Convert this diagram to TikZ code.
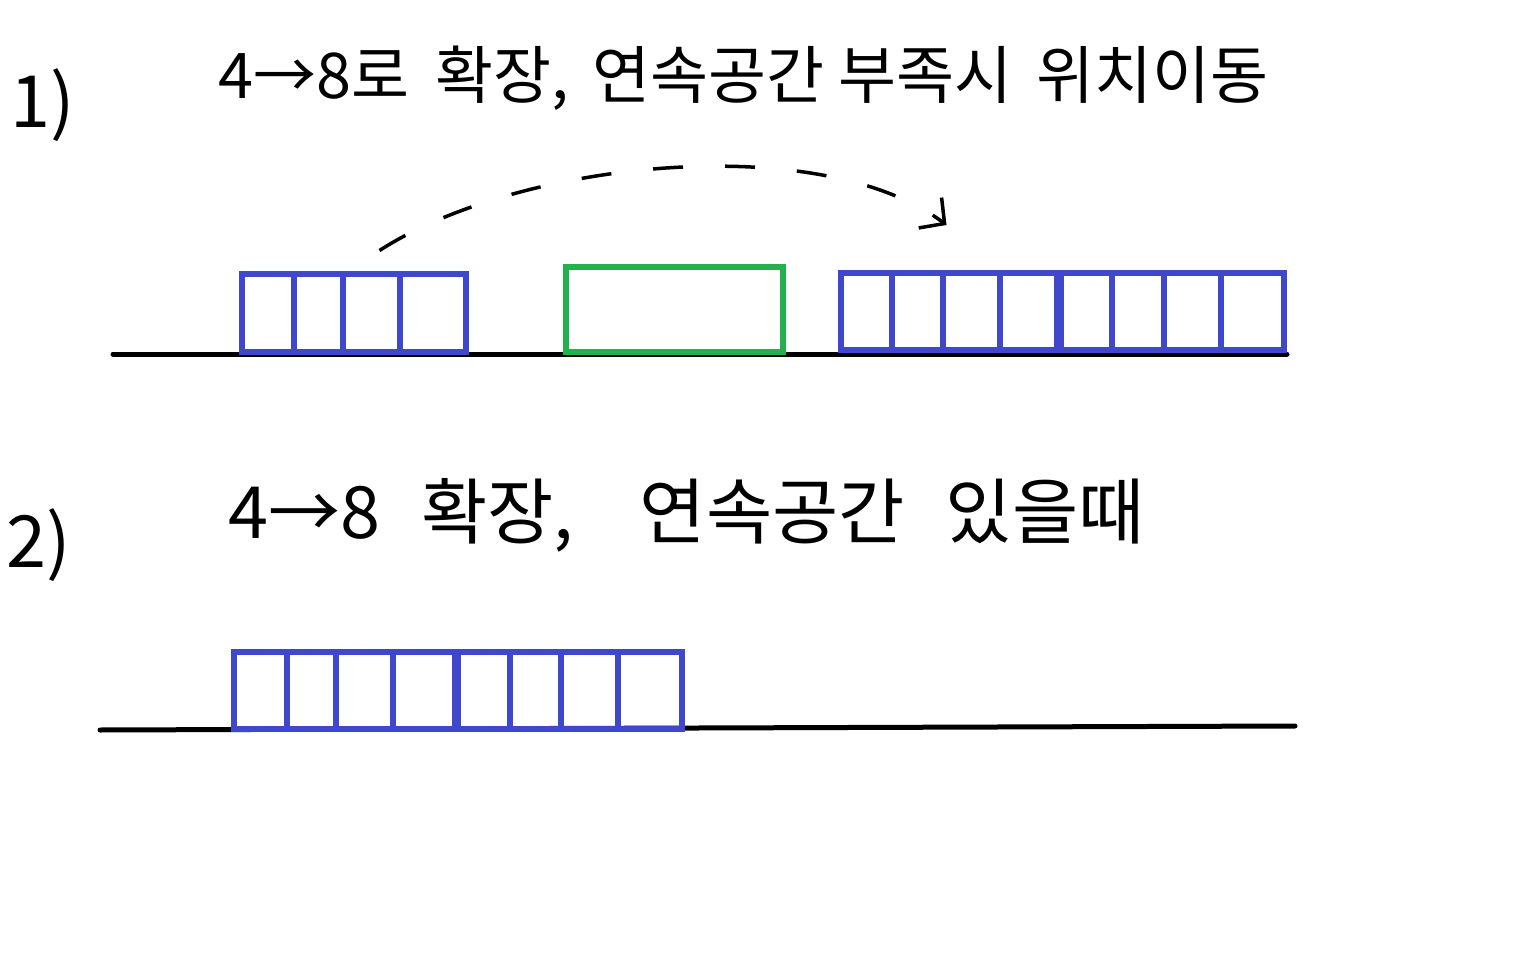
\documentclass[tikz,border=0pt]{standalone}
\usepackage{fontspec}
\setmainfont{Noto Sans CJK KR}
\usepackage{xcolor}
\usetikzlibrary{positioning,calc,arrows.meta}

\definecolor{memblue}{RGB}{63,72,204}
\definecolor{freegreen}{RGB}{34,177,76}

\begin{document}
\begin{tikzpicture}[
    x=1pt, y=-1pt,
    cell/.style={draw=memblue, line width=6pt, inner sep=0pt, minimum height=77pt},
    freebox/.style={draw=freegreen, line width=6pt, inner sep=0pt},
    base/.style={line width=5pt, line cap=round},
    note/.style={anchor=west, inner sep=0pt, font=\fontsize{63}{70}\selectfont},
    num/.style={anchor=west, inner sep=0pt, font=\fontsize{72}{80}\selectfont},
    move/.style={dash pattern=on 30pt off 42pt, line width=3.5pt, -{Straight Barb[length=18pt,width=38pt,line width=3.5pt]}}
]
\useasboundingbox (0,0) rectangle (1516,960);

% 1) not enough contiguous space
\node[num] (t1num) at (10,105) {1)};
\node[note] (t1) at (218,78) {4→8로\hspace{12pt} 확장,\hspace{10pt} 연속공간 부족시\hspace{10pt} 위치이동};

\coordinate (base1l) at (113,354);
\coordinate (base1r) at (1287,354);
\draw[base] (base1l) -- (base1r);

\node[cell, minimum width=52pt] (a1) at (268,313) {};
\node[cell, minimum width=49pt] (a2) at (318.5,313) {};
\node[cell, minimum width=57pt] (a3) at (371.5,313) {};
\node[cell, minimum width=66pt] (a4) at (433,313) {};

\node[freebox, minimum width=217pt, minimum height=85pt] (gap) at (674.5,309.5) {};

\node[cell, minimum width=51pt] (b1) at (866.5,311.5) {};
\node[cell, minimum width=51pt] (b2) at (917.5,311.5) {};
\node[cell, minimum width=57pt] (b3) at (971.5,311.5) {};
\node[cell, minimum width=57pt] (b4) at (1028.5,311.5) {};
\node[cell, minimum width=51pt] (b5) at (1086.5,311.5) {};
\node[cell, minimum width=52pt] (b6) at (1138,311.5) {};
\node[cell, minimum width=57pt] (b7) at (1192.5,311.5) {};
\node[cell, minimum width=63pt] (b8) at (1252.5,311.5) {};

\draw[move] ([xshift=8pt,yshift=21pt]a3.north) .. controls (520,160) and (820,130) .. ([xshift=-25pt,yshift=45pt]b3.north);

% 2) contiguous space available
\node[num] (t2num) at (6,545) {2)};
\node[note, font=\fontsize{72}{80}\selectfont] (t2) at (228,515) {4→8\hspace{25pt} 확장,\hspace{50pt} 연속공간\hspace{25pt} 있을때};

\coordinate (base2l) at (100,730);
\coordinate (base2r) at (1295,726);
\draw[base] (base2l) -- (base2r);

\node[cell, minimum width=53pt] (c1) at (260.5,690) {};
\node[cell, minimum width=49pt] (c2) at (311.5,690) {};
\node[cell, minimum width=57pt] (c3) at (364.5,690) {};
\node[cell, minimum width=62pt] (c4) at (424,690) {};
\node[cell, minimum width=52pt] (c5) at (484,690) {};
\node[cell, minimum width=51pt] (c6) at (535.5,690) {};
\node[cell, minimum width=57pt] (c7) at (589.5,690) {};
\node[cell, minimum width=64pt] (c8) at (650,690) {};
\end{tikzpicture}
\end{document}
